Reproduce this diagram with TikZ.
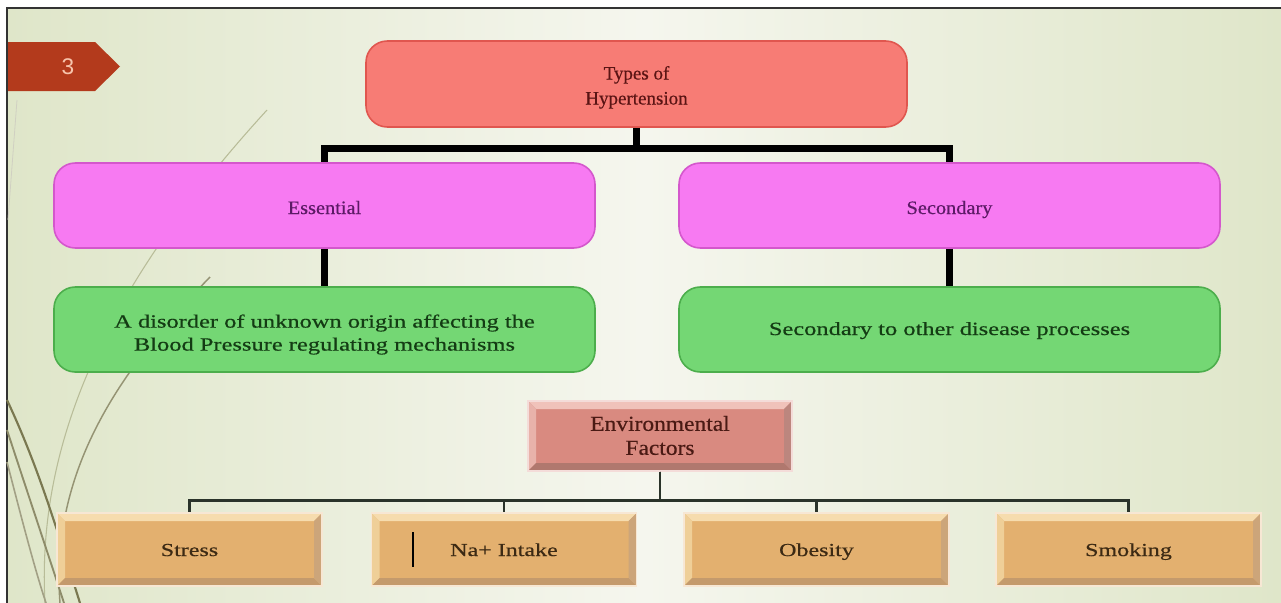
\documentclass[tikz,border=0pt]{standalone}
\usepackage{fontspec}
\setmainfont{Liberation Serif}
\newfontfamily\topfont[FakeBold=0.4]{Liberation Serif}
\newfontfamily\pinkfont[FakeStretch=1.07,FakeBold=0.4]{Liberation Serif}
\newfontfamily\widefont[FakeStretch=1.31,FakeBold=0.5]{Liberation Serif}
\newfontfamily\envfont[FakeStretch=1.1,FakeBold=0.4]{Liberation Serif}
\newfontfamily\tabfont{Liberation Sans}
\usetikzlibrary{calc}
\newcommand{\lowtext}[2]{\raisebox{-#1}[\height][\depth]{\begin{tabular}{@{}c@{}}#2\end{tabular}}}
\newcommand{\lowone}[2]{\raisebox{-#1}{#2}}
\definecolor{bgside}{HTML}{DFE6C9}
\definecolor{bgmid}{HTML}{F5F6EE}
\definecolor{tabred}{HTML}{B33A1C}
\definecolor{tabtxt}{HTML}{F7C4AC}
\definecolor{topfill}{HTML}{F77C75}
\definecolor{topdraw}{HTML}{E0564F}
\definecolor{toptxt}{HTML}{5A1414}
\definecolor{pinkfill}{HTML}{F77AF2}
\definecolor{pinkdraw}{HTML}{D457CC}
\definecolor{pinktxt}{HTML}{5C1A66}
\definecolor{greenfill}{HTML}{74D774}
\definecolor{greendraw}{HTML}{4CAE4C}
\definecolor{greentxt}{HTML}{143C14}
\definecolor{envface}{HTML}{D98A80}
\definecolor{envlt}{HTML}{F0C2BA}
\definecolor{envlt2}{HTML}{E8B2AA}
\definecolor{envdk}{HTML}{B0786E}
\definecolor{envdk2}{HTML}{BC867E}
\definecolor{envtxt}{HTML}{4A1A14}
\definecolor{tanface}{HTML}{E3B06F}
\definecolor{tanlt}{HTML}{F6DCAE}
\definecolor{tanlt2}{HTML}{EFCF98}
\definecolor{tandk}{HTML}{C49A6C}
\definecolor{tandk2}{HTML}{CCA57A}
\definecolor{tantxt}{HTML}{3C2A14}
\definecolor{thinconn}{HTML}{2A332A}
\definecolor{olive}{HTML}{7A7850}
\definecolor{olivelt}{HTML}{B8BC98}
\tikzset{
  roundbox/.style={rounded corners=16pt, line width=1.2pt, inner sep=0pt, align=center},
  oneline/.style={text height=0.68em, text depth=0pt},
  topbox/.style={roundbox, fill=topfill, draw=topdraw, text=toptxt, minimum width=405.75pt, minimum height=64.5pt,
    font=\topfont\fontsize{14.25}{18.75}\selectfont},
  pinkbox/.style={roundbox, oneline, fill=pinkfill, draw=pinkdraw, text=pinktxt, minimum width=405.75pt, minimum height=63.75pt,
    font=\pinkfont\fontsize{14.25}{18.75}\selectfont},
  greenbox/.style={roundbox, fill=greenfill, draw=greendraw, text=greentxt, minimum width=405.75pt, minimum height=63.75pt,
    font=\widefont\fontsize{14}{17.25}\selectfont},
  bevel/.style n args={5}{inner sep=0pt, align=center, fill=#1, draw=white!70!#1, line width=1.1pt,
    path picture={
      \fill[#2] (path picture bounding box.north west) -- (path picture bounding box.north east)
        -- ([shift={(-6pt,-6pt)}]path picture bounding box.north east)
        -- ([shift={(6pt,-6pt)}]path picture bounding box.north west) -- cycle;
      \fill[#3] (path picture bounding box.north west) -- ([shift={(6pt,-6pt)}]path picture bounding box.north west)
        -- ([shift={(6pt,6pt)}]path picture bounding box.south west)
        -- (path picture bounding box.south west) -- cycle;
      \fill[#4] (path picture bounding box.south west) -- (path picture bounding box.south east)
        -- ([shift={(-6pt,6pt)}]path picture bounding box.south east)
        -- ([shift={(6pt,6pt)}]path picture bounding box.south west) -- cycle;
      \fill[#5] (path picture bounding box.north east) -- (path picture bounding box.south east)
        -- ([shift={(-6pt,6pt)}]path picture bounding box.south east)
        -- ([shift={(-6pt,-6pt)}]path picture bounding box.north east) -- cycle;
    }},
  envbox/.style={bevel={envface}{envlt}{envlt2}{envdk}{envdk2}, text=envtxt, minimum width=198pt, minimum height=52.5pt,
    font=\envfont\fontsize{16}{18}\selectfont},
  factorbox/.style={bevel={tanface}{tanlt}{tanlt2}{tandk}{tandk2}, oneline, text=tantxt, minimum width=198.75pt, minimum height=54.75pt,
    font=\widefont\fontsize{13.75}{17}\selectfont},
  thickconn/.style={line width=5.25pt, black, line join=miter},
  thinconn/.style={line width=1.9pt, draw=thinconn, line join=miter},
}
\begin{document}
\begin{tikzpicture}[x=0.75pt, y=-0.75pt]
\useasboundingbox (0,0) rectangle (1281,603);
\fill[white] (0,0) rectangle (1281,603);
\shade[left color=bgside, right color=bgside, middle color=bgmid] (7,8) rectangle (1281,603);
\draw[line width=1.3pt, black!80] (7,603) -- (7,8) -- (1281,8);
% decorative curves
\draw[olive!35, line width=0.6pt] (17,100) -- (8,220);
\draw[olivelt, line width=0.8pt] (267,110) .. controls (130,260) and (35,420) .. (45,603);
\draw[olive!80, line width=1.1pt] (210,277) .. controls (120,370) and (50,470) .. (60,603);
\draw[olive, line width=1.6pt] (7,400) .. controls (40,470) and (60,540) .. (80,603);
\draw[olive!85, line width=1.4pt] (7,430) .. controls (30,500) and (50,560) .. (64,603);
\draw[olive!70, line width=1.2pt] (7,462) .. controls (22,520) and (35,570) .. (46,603);
% slide tab
\fill[tabred] (8,42) -- (95,42) -- (120,66.5) -- (95,91) -- (8,91) -- cycle;
\node[text=tabtxt, font=\tabfont\fontsize{17}{19}\selectfont] (tab) at (68,67) {3};
% nodes
\node[topbox] (types) at (636.5,84) {\lowtext{2.25pt}{Types of\\Hypertension}};
\node[pinkbox] (ess) at (324.5,205.5) {\lowone{3pt}{Essential}};
\node[pinkbox] (sec) at (949.5,205.5) {\lowone{3pt}{Secondary}};
\node[greenbox] (essd) at (324.5,329.5) {\lowtext{3.75pt}{A disorder of unknown origin affecting the\\Blood Pressure regulating mechanisms}};
\node[greenbox, oneline] (secd) at (949.5,329.5) {\lowone{0.75pt}{Secondary to other disease processes}};
\node[envbox] (env) at (660,436) {\lowtext{1.5pt}{Environmental\\Factors}};
\node[factorbox] (stress) at (189.5,549.5) {\lowone{1.5pt}{Stress}};
\node[factorbox] (na) at (504,549.5) {\lowone{1.5pt}{Na+ Intake}};
\node[factorbox] (obes) at (816.5,549.5) {\lowone{1.5pt}{Obesity}};
\node[factorbox] (smok) at (1128.5,549.5) {\lowone{1.5pt}{Smoking}};
\draw[line width=2.2pt, black] ([shift={(-91,-17.5)}]na.center) -- ([shift={(-91,17.5)}]na.center);
% connectors
\draw[thickconn] (types.south) -- ++(0,21) -| (ess.north);
\draw[thickconn] (types.south) -- ++(0,21) -| (sec.north);
\draw[thickconn] (ess.south) -- (essd.north);
\draw[thickconn] (sec.south) -- (secd.north);
\draw[thinconn] (env.south) -- ++(0,29) -| (stress.north);
\draw[thinconn] (env.south) -- ++(0,29) -| (na.north);
\draw[thinconn] (env.south) -- ++(0,29) -| (obes.north);
\draw[thinconn] (env.south) -- ++(0,29) -| (smok.north);
\end{tikzpicture}
\end{document}
